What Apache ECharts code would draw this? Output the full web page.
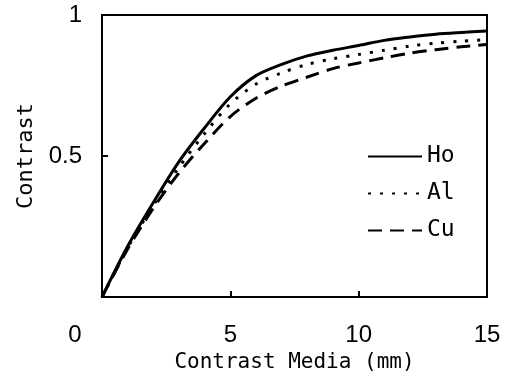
<!DOCTYPE html>
<html>
<head>
<meta charset="utf-8">
<script src="https://cdn.jsdelivr.net/npm/echarts@6/dist/echarts.min.js"></script>
<style>
  html, body { margin: 0; padding: 0; background: #fff; }
  #chart { width: 505px; height: 379px; }
</style>
</head>
<body>
<div id="chart"></div>
<script>
// thickness of contrast media (mm)
const xs = [0, 1, 2, 3, 4, 5, 6, 7, 8, 9, 10, 11, 12, 13, 14, 15];
// contrast
const ho = [0, 0.18, 0.335, 0.48, 0.60, 0.71, 0.785, 0.825, 0.855, 0.875, 0.892, 0.91, 0.922, 0.932, 0.938, 0.943];
const al = [0, 0.175, 0.325, 0.46, 0.58, 0.685, 0.755, 0.795, 0.825, 0.845, 0.86, 0.875, 0.89, 0.90, 0.907, 0.913];
const cu = [0, 0.17, 0.315, 0.44, 0.545, 0.64, 0.705, 0.748, 0.78, 0.81, 0.83, 0.848, 0.865, 0.877, 0.887, 0.895];
const names = ["Ho", "Al", "Cu"];

const NUM = "Liberation Sans", TXT = "DejaVu Sans Mono";
const pairs = (ys) => xs.map((x, i) => [x, ys[i]]);
const line = (name, ys, type) => ({
  name, type: "line", data: pairs(ys), smooth: 0.3, symbol: "none",
  itemStyle: { color: "#000" },
  lineStyle: { color: "#000", width: 3, type },
});

const chart = echarts.init(document.getElementById("chart"), null, { renderer: "canvas" });
chart.setOption({
  animation: false,
  backgroundColor: "#fff",
  grid: { left: 102, right: 18, top: 15, bottom: 82, show: true, borderColor: "#000", borderWidth: 2 },
  legend: {
    data: names, orient: "vertical", left: 362, top: 140,
    itemWidth: 54, itemHeight: 14, itemGap: 14,
    itemStyle: { opacity: 0, borderWidth: 0 },
    textStyle: { fontFamily: TXT, fontSize: 23, color: "#000" },
  },
  xAxis: {
    type: "value", min: 0, max: 15, interval: 5,
    name: "Contrast Media (mm)", nameLocation: "middle", nameGap: 51,
    nameTextStyle: { fontFamily: TXT, fontSize: 21, color: "#000" },
    axisLine: { lineStyle: { color: "#000", width: 2 } },
    axisTick: { inside: true, length: 6, lineStyle: { color: "#000", width: 2 } },
    splitLine: { show: false },
    axisLabel: {
      margin: 26, fontFamily: NUM, fontSize: 24, color: "#000",
      formatter: (v) => (v === 0 ? "{z|0}" : String(v)),
      rich: { z: { fontFamily: NUM, fontSize: 24, color: "#000", padding: [0, 54, 0, 0] } },
    },
  },
  yAxis: {
    type: "value", min: 0, max: 1, interval: 0.5,
    name: "Contrast", nameLocation: "middle", nameGap: 62,
    nameTextStyle: { fontFamily: TXT, fontSize: 22, color: "#000" },
    axisLine: { lineStyle: { color: "#000", width: 2 } },
    axisTick: { inside: true, length: 6, lineStyle: { color: "#000", width: 2 } },
    splitLine: { show: false },
    axisLabel: {
      margin: 20, fontFamily: NUM, fontSize: 24, color: "#000",
      formatter: (v) => (v === 0 ? "" : String(v)),
    },
  },
  series: [
    line("Ho", ho, "solid"),
    line("Al", al, [3, 9]),
    line("Cu", cu, [14, 8]),
  ],
});
</script>
</body>
</html>
